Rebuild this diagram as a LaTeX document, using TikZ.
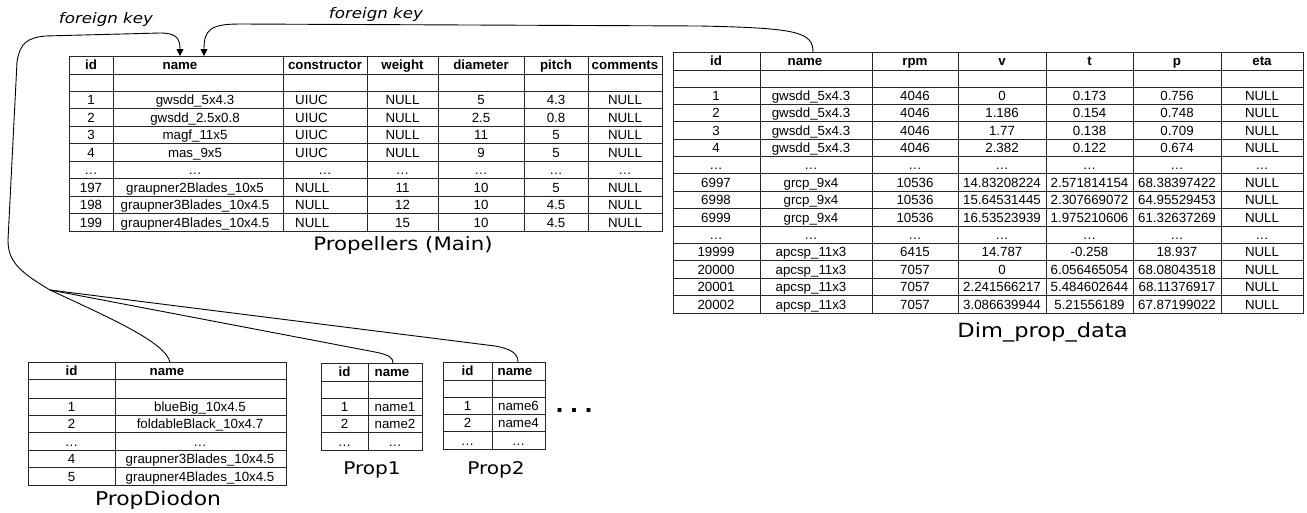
\documentclass[tikz,border=0pt]{standalone}
\usepackage{fontspec}
\setmainfont{Liberation Sans}
\newfontfamily\capfont[FakeStretch=1.15]{DejaVu Sans}
\usetikzlibrary{arrows.meta}
\tikzset{
  tbl/.style={draw=black!85, line width=0.9pt},
  cell/.style={font=\fontsize{13.3}{15}\selectfont, inner sep=0pt, text height=9.5pt, text depth=0pt},
  hcell/.style={cell, font=\fontsize{13.3}{15}\selectfont\bfseries},
  lcell/.style={cell, anchor=west},
  captext/.style={inner sep=0pt, anchor=base},
  fklabel/.style={font=\capfont\itshape\fontsize{14.5}{17}\selectfont, inner sep=0pt, anchor=base},
  conn/.style={draw=black, line width=0.9pt},
  fkarrow/.style={conn, -{Triangle[length=7pt,width=7pt]}},
  dotstext/.style={font=\fontsize{27}{27}\selectfont\bfseries, inner sep=0pt}
}
\begin{document}
\begin{tikzpicture}[x=1pt,y=-1pt]
\useasboundingbox (0,0) rectangle (1307,512);
\fill[white] (0,0) rectangle (1307,512);

% ---------------- Propellers (Main) ----------------
\draw[tbl] (69,56) rectangle (662,231);
\foreach \x in {113,283,367,438,524,588} \draw[tbl] (\x,56) -- (\x,231);
\foreach \y in {74,91,108.5,126,143.5,161,178.5,196,213.5} \draw[tbl] (69,\y) -- (662,\y);
\foreach \t/\x [count=\c] in {id/91,name/180,constructor/325,weight/402.5,diameter/481,pitch/556,comments/625}
  \node[hcell] (pm-h-\c) at (\x,65) {\t};
\foreach \r/\a/\b/\cc/\d/\e/\f/\g in {
  1/1/gwsdd\_5x4.3/UIUC/NULL/5/4.3/NULL,
  2/2/gwsdd\_2.5x0.8/UIUC/NULL/2.5/0.8/NULL,
  3/3/magf\_11x5/UIUC/NULL/11/5/NULL,
  4/4/mas\_9x5/UIUC/NULL/9/5/NULL,
  6/197/graupner2Blades\_10x5/NULL/11/10/5/NULL,
  7/198/graupner3Blades\_10x4.5/NULL/12/10/4.5/NULL,
  8/199/graupner4Blades\_10x4.5/NULL/15/10/4.5/NULL}{
  \pgfmathsetmacro\yy{91+17.5*(\r-0.5)}
  \node[cell] (pm-\r-1) at (91,\yy) {\a};
  \node[cell] (pm-\r-2) at (195,\yy) {\b};
  \node[lcell] (pm-\r-3) at (295,\yy) {\cc};
  \node[cell] (pm-\r-4) at (402.5,\yy) {\d};
  \node[cell] (pm-\r-5) at (481,\yy) {\e};
  \node[cell] (pm-\r-6) at (556,\yy) {\f};
  \node[cell] (pm-\r-7) at (625,\yy) {\g};
}
\foreach \x [count=\c] in {91,195,325,402.5,481,556,625}
  \node[cell] (pm-5-\c) at (\x,169.75) {…};
\node[captext, font=\capfont\fontsize{18.5}{21}\selectfont] (pmcap) at (403,250) {Propellers (Main)};

% ---------------- Dim_prop_data ----------------
\draw[tbl] (673,52) rectangle (1303,313);
\foreach \x in {760,872,958,1046,1133,1221} \draw[tbl] (\x,52) -- (\x,313);
\draw[tbl] (673,70) -- (1303,70);
\foreach \i in {0,...,12} \draw[tbl] (673,87+17.385*\i) -- (1303,87+17.385*\i);
\foreach \t/\x [count=\c] in {id/716,name/805,rpm/915,v/1002,t/1089.5,p/1177,eta/1262}
  \node[hcell] (dm-h-\c) at (\x,61) {\t};
\foreach \a/\b/\cc/\d/\e/\f/\g [count=\r] in {
  1/gwsdd\_5x4.3/4046/0/0.173/0.756/NULL,
  2/gwsdd\_5x4.3/4046/1.186/0.154/0.748/NULL,
  3/gwsdd\_5x4.3/4046/1.77/0.138/0.709/NULL,
  4/gwsdd\_5x4.3/4046/2.382/0.122/0.674/NULL,
  …/…/…/…/…/…/…,
  6997/grcp\_9x4/10536/14.83208224/2.571814154/68.38397422/NULL,
  6998/grcp\_9x4/10536/15.64531445/2.307669072/64.95529453/NULL,
  6999/grcp\_9x4/10536/16.53523939/1.975210606/61.32637269/NULL,
  …/…/…/…/…/…/…,
  19999/apcsp\_11x3/6415/14.787/-0.258/18.937/NULL,
  20000/apcsp\_11x3/7057/0/6.056465054/68.08043518/NULL,
  20001/apcsp\_11x3/7057/2.241566217/5.484602644/68.11376917/NULL,
  20002/apcsp\_11x3/7057/3.086639944/5.21556189/67.87199022/NULL}{
  \pgfmathsetmacro\yy{87+17.385*(\r-0.5)}
  \node[cell] (dm-\r-1) at (716,\yy) {\a};
  \node[cell] (dm-\r-2) at (811,\yy) {\b};
  \node[cell] (dm-\r-3) at (915,\yy) {\cc};
  \node[cell] (dm-\r-4) at (1002,\yy) {\d};
  \node[cell] (dm-\r-5) at (1089.5,\yy) {\e};
  \node[cell] (dm-\r-6) at (1177,\yy) {\f};
  \node[cell] (dm-\r-7) at (1262,\yy) {\g};
}
\node[captext, font=\capfont\fontsize{19.6}{22}\selectfont] (dmcap) at (1042.5,337) {Dim\_prop\_data};

% ---------------- PropDiodon ----------------
\draw[tbl] (28,362) rectangle (286,485);
\draw[tbl] (115,362) -- (115,485);
\draw[tbl] (28,379) -- (286,379);
\foreach \i in {0,...,4} \draw[tbl] (28,398+17.4*\i) -- (286,398+17.4*\i);
\node[hcell] (dd-h-1) at (71.5,370.5) {id};
\node[hcell] (dd-h-2) at (167,370.5) {name};
\foreach \a/\b [count=\r] in {1/blueBig\_10x4.5,2/foldableBlack\_10x4.7,…/…,4/graupner3Blades\_10x4.5,5/graupner4Blades\_10x4.5}{
  \pgfmathsetmacro\yy{398+17.4*(\r-0.5)}
  \node[cell] (dd-\r-1) at (71.5,\yy) {\a};
  \node[cell] (dd-\r-2) at (200,\yy) {\b};
}
\node[captext, font=\capfont\fontsize{19}{22}\selectfont] (ddcap) at (158,505) {PropDiodon};

% ---------------- Prop1 ----------------
\draw[tbl] (321,363) rectangle (422,450);
\draw[tbl] (368,363) -- (368,450);
\draw[tbl] (321,381) -- (422,381);
\foreach \i in {0,1,2} \draw[tbl] (321,398+17.33*\i) -- (422,398+17.33*\i);
\node[hcell] (pa-h-1) at (344.5,372) {id};
\node[hcell] (pa-h-2) at (392,372) {name};
\foreach \a/\b [count=\r] in {1/name1,2/name2,…/…}{
  \pgfmathsetmacro\yy{398+17.33*(\r-0.5)}
  \node[cell] (pa-\r-1) at (344.5,\yy) {\a};
  \node[cell] (pa-\r-2) at (395,\yy) {\b};
}
\node[captext, font=\capfont\fontsize{17.5}{20}\selectfont] (pacap) at (372,474) {Prop1};

% ---------------- Prop2 ----------------
\draw[tbl] (443,362) rectangle (545,449);
\draw[tbl] (492,362) -- (492,449);
\draw[tbl] (443,380) -- (545,380);
\foreach \i in {0,1,2} \draw[tbl] (443,397+17.33*\i) -- (545,397+17.33*\i);
\node[hcell] (pb-h-1) at (467.5,371) {id};
\node[hcell] (pb-h-2) at (515,371) {name};
\foreach \a/\b [count=\r] in {1/name6,2/name4,…/…}{
  \pgfmathsetmacro\yy{397+17.33*(\r-0.5)}
  \node[cell] (pb-\r-1) at (467.5,\yy) {\a};
  \node[cell] (pb-\r-2) at (518.5,\yy) {\b};
}
\node[captext, font=\capfont\fontsize{17.5}{20}\selectfont] (pbcap) at (496,474) {Prop2};

\node[dotstext] (more) at (574,410) {.\hspace{7pt}.\hspace{7pt}.};

% ---------------- connectors ----------------
\coordinate (pmN1) at (180,56);
\coordinate (pmN2) at (204,56);
\coordinate (dimN) at (813,52);
\coordinate (fork) at (50,290);
\coordinate (ddN) at (170,362);
\coordinate (paN) at (393,363);
\coordinate (pbN) at (518,362);

\draw[fkarrow] (dimN) .. controls (813,32) and (797,28) .. (700,26) -- (240,24)
  .. controls (210,24) and (204,30) .. (pmN2);
\draw[fkarrow] (fork) .. controls (20,272) and (8,262) .. (8,240) -- (17,62)
  .. controls (20,43) and (27,38) .. (45,36) -- (160,33)
  .. controls (176,33) and (180,38) .. (pmN1);
\draw[conn] (ddN) .. controls (165,342) and (110,318) .. (fork);
\draw[conn] (paN) .. controls (393,358) and (390,355) .. (375,352) -- (fork);
\draw[conn] (pbN) .. controls (518,354) and (512,349) .. (495,346) -- (fork);

\node[fklabel] (fk1) at (106,23) {foreign key};
\node[fklabel] (fk2) at (376,18) {foreign key};
\end{tikzpicture}
\end{document}
